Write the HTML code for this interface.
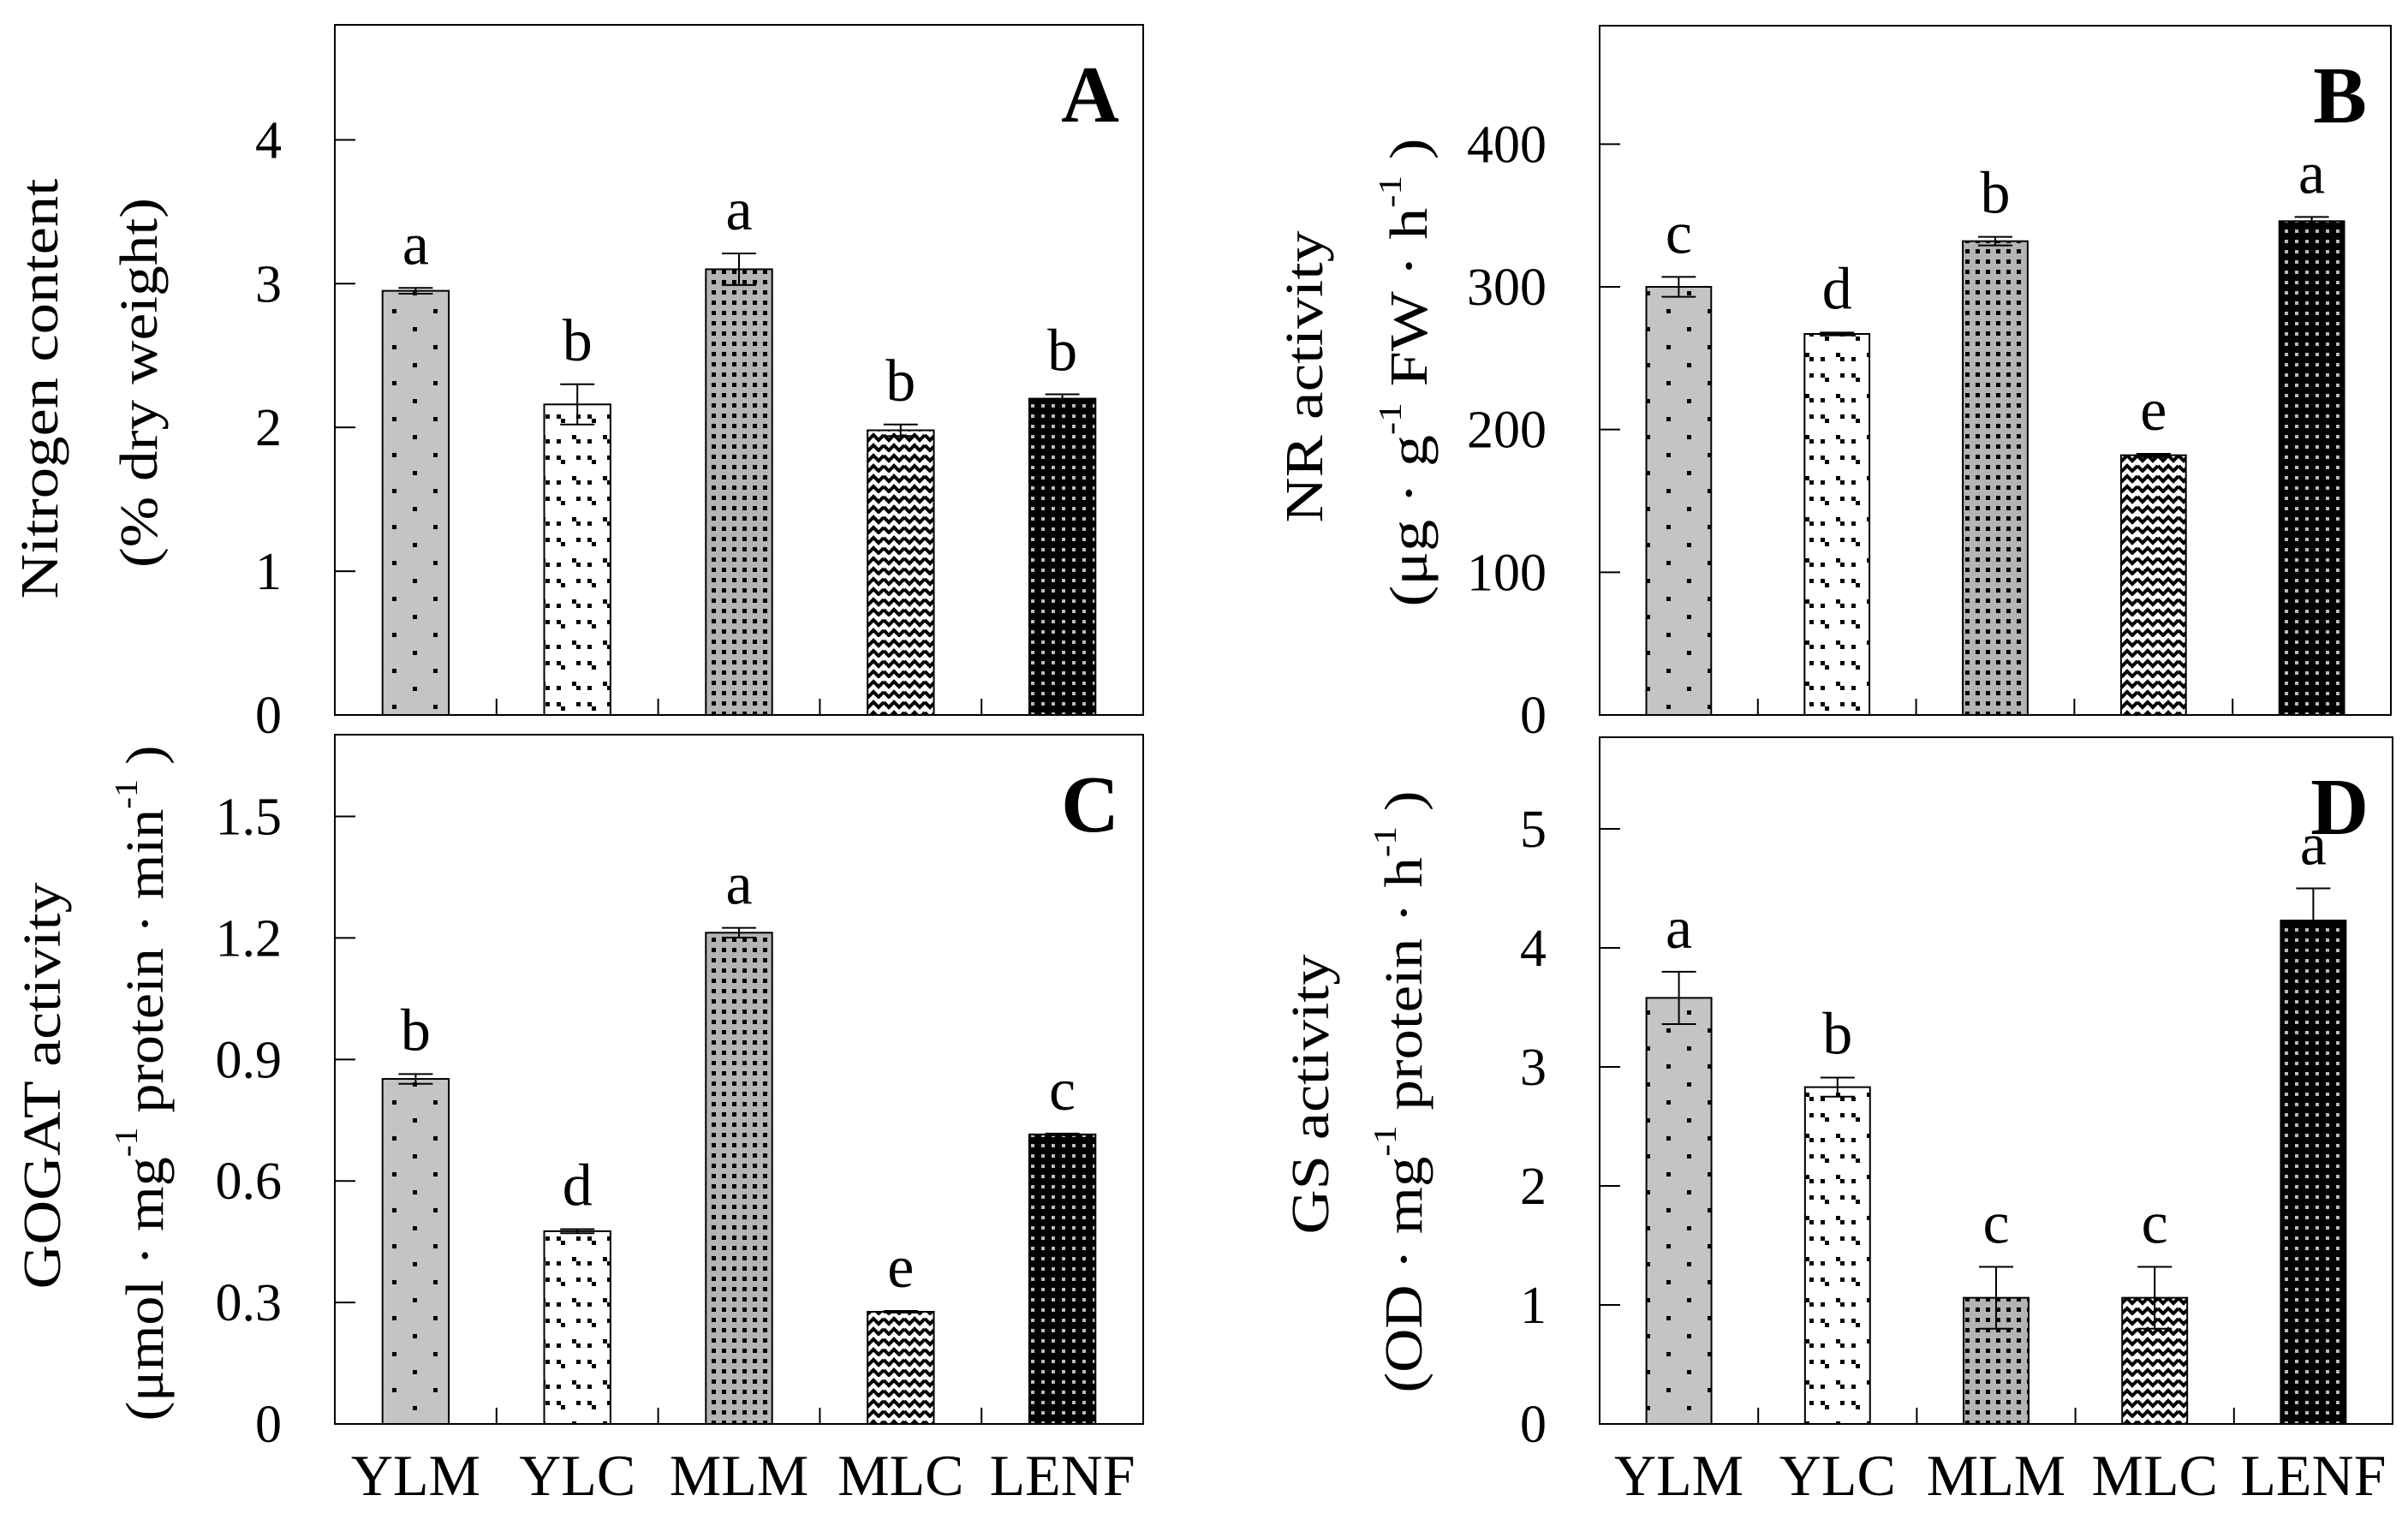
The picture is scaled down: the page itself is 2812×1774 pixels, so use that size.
<!DOCTYPE html>
<html><head><meta charset="utf-8"><style>
html,body{margin:0;padding:0;background:#fff;}
svg{display:block;font-family:"Liberation Serif",serif;}
</style></head><body>
<svg id="fig" width="2812" height="1774" viewBox="0 0 2812 1774" xmlns="http://www.w3.org/2000/svg">
<defs>
<pattern id="pYLM" patternUnits="userSpaceOnUse" width="48" height="42">
<rect width="48" height="42" fill="#c4c4c4"/>
<rect x="2" y="4" width="5" height="5" fill="#000"/>
<rect x="26" y="25" width="5" height="5" fill="#000"/>
</pattern>
<pattern id="pYLC" patternUnits="userSpaceOnUse" width="36" height="48">
<rect width="36" height="48" fill="#fff"/>
<rect x="2" y="4" width="5" height="5" fill="#000"/><rect x="7" y="9" width="5" height="5" fill="#000"/>
<rect x="20" y="28" width="5" height="5" fill="#000"/><rect x="25" y="33" width="5" height="5" fill="#000"/>
<rect x="25" y="4" width="5" height="5" fill="#000"/><rect x="2" y="33" width="5" height="5" fill="#000"/>
</pattern>
<pattern id="pMLM" patternUnits="userSpaceOnUse" width="12" height="12">
<rect width="12" height="12" fill="#b4b4b4"/>
<rect x="3" y="3" width="5" height="5" fill="#000"/>
</pattern>
<pattern id="pMLC" patternUnits="userSpaceOnUse" width="24" height="24">
<rect width="24" height="24" fill="#fff"/>
<path d="M0 4 L6 10 L12 4 L18 10 L24 4 M0 16 L6 22 L12 16 L18 22 L24 16" stroke="#000" stroke-width="4" fill="none"/>
</pattern>
<pattern id="pLENF" patternUnits="userSpaceOnUse" width="12" height="12">
<rect width="12" height="12" fill="#000"/>
<rect x="4" y="4" width="4" height="4" fill="#bbb"/>
</pattern>
</defs>
<g id="root"></g>
</svg>
<script>
const categories = ["YLM","YLC","MLM","MLC","LENF"];
const patterns = ["pYLM","pYLC","pMLM","pMLC","pLENF"];

const valuesA = [2.95, 2.16, 3.10, 1.98, 2.20];
const errorsA = [0.02, 0.14, 0.11, 0.04, 0.03];
const lettersA = ["a","b","a","b","b"];
const ticksA = [0,1,2,3,4];
const tickLabelsA = ["0","1","2","3","4"];

const valuesB = [300, 267, 332, 182, 346];
const errorsB = [7, 1, 3, 1, 3];
const lettersB = ["c","d","b","e","a"];
const ticksB = [0,100,200,300,400];
const tickLabelsB = ["0","100","200","300","400"];

const valuesC = [0.852, 0.476, 1.213, 0.277, 0.715];
const errorsC = [0.012, 0.005, 0.012, 0.002, 0.002];
const lettersC = ["b","d","a","e","c"];
const ticksC = [0,0.3,0.6,0.9,1.2,1.5];
const tickLabelsC = ["0","0.3","0.6","0.9","1.2","1.5"];

const valuesD = [3.58, 2.83, 1.06, 1.06, 4.23];
const errorsD = [0.22, 0.08, 0.26, 0.26, 0.27];
const lettersD = ["a","b","c","c","a"];
const ticksD = [0,1,2,3,4,5];
const tickLabelsD = ["0","1","2","3","4","5"];

const NS = "http://www.w3.org/2000/svg";
const root = document.getElementById("root");
function mk(tag, attrs, parent){const e=document.createElementNS(NS,tag);for(const k in attrs)e.setAttribute(k,attrs[k]);(parent||root).appendChild(e);return e;}

function panel(p){
  const g = mk("g",{});
  
  
  const yScale = v => p.bottom - (v/p.ymax)*(p.bottom-p.top);
  const band = (p.right-p.left)/5;
  const xCenter = i => p.left + (i+0.5)*band;
  const frame = mk("rect",{x:p.left,y:p.top,width:p.right-p.left,height:p.bottom-p.top,fill:"none",stroke:"#000","stroke-width":2},g);
  
  
  p.ticks.forEach((t,i)=>{
    const y=yScale(t);
    if(t>0){const tk=mk("line",{x1:p.left,x2:p.left+24,y1:y,y2:y,stroke:"#000","stroke-width":2},g);
      
      }
    const tl=mk("text",{x:p.left-62,y:y+21,"text-anchor":"end","font-size":62},g);
    tl.textContent=p.tickLabels[i];
    
    
  });
  for(let k=1;k<5;k++){const x=p.left+k*band;const tk=mk("line",{x1:x,x2:x,y1:p.bottom,y2:p.bottom-19,stroke:"#000","stroke-width":2},g);
    
    }
  const bw = band*0.41;
  p.values.forEach((v,i)=>{
    const x=xCenter(i)-bw/2, y=yScale(v);
    const b=mk("rect",{x:x,y:y,width:bw,height:p.bottom-y,fill:"url(#"+patterns[i]+")",stroke:"#000","stroke-width":2},g);
    
    
    const yt=yScale(v+p.errors[i]), yb=yScale(v-p.errors[i]), cx=xCenter(i);
    const e=mk("path",{d:`M${cx} ${yb} V${yt} M${cx-20} ${yt} H${cx+20} M${cx-20} ${yb} H${cx+20}`,stroke:"#000","stroke-width":2,fill:"none"},g);
    
    
    const l=mk("text",{x:cx,y:yt-28,"text-anchor":"middle","font-size":70},g);
    l.textContent=p.letters[i];
    
    
    if(p.xlabels){const xl=mk("text",{x:cx,y:1746,"text-anchor":"middle","font-size":68},g);
      xl.textContent=categories[i];
      
      }
  });
  const pl=mk("text",{x:p.right-28,y:p.top+113,"text-anchor":"end","font-size":94,"font-weight":"bold"},g);
  pl.textContent=p.id;
  
  
  p.titles.forEach(t=>{
    const tx=mk("text",{transform:`translate(${t.x},${t.y}) rotate(-90)`,"text-anchor":"middle","dominant-baseline":"central","font-size":62,textLength:t.len,lengthAdjust:"spacingAndGlyphs"},g);
    tx.innerHTML=t.html;
    
    
  });
}
const sup = s => `<tspan dy="-22" font-size="38">${s}</tspan><tspan dy="22"> </tspan>`;
panel({id:"A",left:391,right:1335,top:29,bottom:835,ymax:4.8,values:valuesA,errors:errorsA,letters:lettersA,ticks:ticksA,tickLabels:tickLabelsA,xlabels:false,
  titles:[{x:47,y:454,len:491,html:"Nitrogen content"},{x:163,y:447,len:432,html:"(% dry weight)"}]});
panel({id:"B",left:1868,right:2792,top:30,bottom:835,ymax:483,values:valuesB,errors:errorsB,letters:lettersB,ticks:ticksB,tickLabels:tickLabelsB,xlabels:false,
  titles:[{x:1524,y:440,len:341,html:"NR activity"},{x:1646,y:435,len:547,html:"(μg · g"+sup("-1")+"FW · h"+sup("-1")+")"}]});
panel({id:"C",left:391,right:1335,top:858,bottom:1663,ymax:1.702,values:valuesC,errors:errorsC,letters:lettersC,ticks:ticksC,tickLabels:tickLabelsC,xlabels:true,
  titles:[{x:50,y:1268,len:475,html:"GOGAT activity"},{x:170,y:1265,len:789,html:"(μmol · mg"+sup("-1")+"protein · min"+sup("-1")+")"}]});
panel({id:"D",left:1868,right:2794,top:861,bottom:1663,ymax:5.77,values:valuesD,errors:errorsD,letters:lettersD,ticks:ticksD,tickLabels:tickLabelsD,xlabels:true,
  titles:[{x:1531,y:1278,len:327,html:"GS activity"},{x:1640,y:1275,len:703,html:"(OD · mg"+sup("-1")+"protein · h"+sup("-1")+")"}]});
</script>
</body></html>
